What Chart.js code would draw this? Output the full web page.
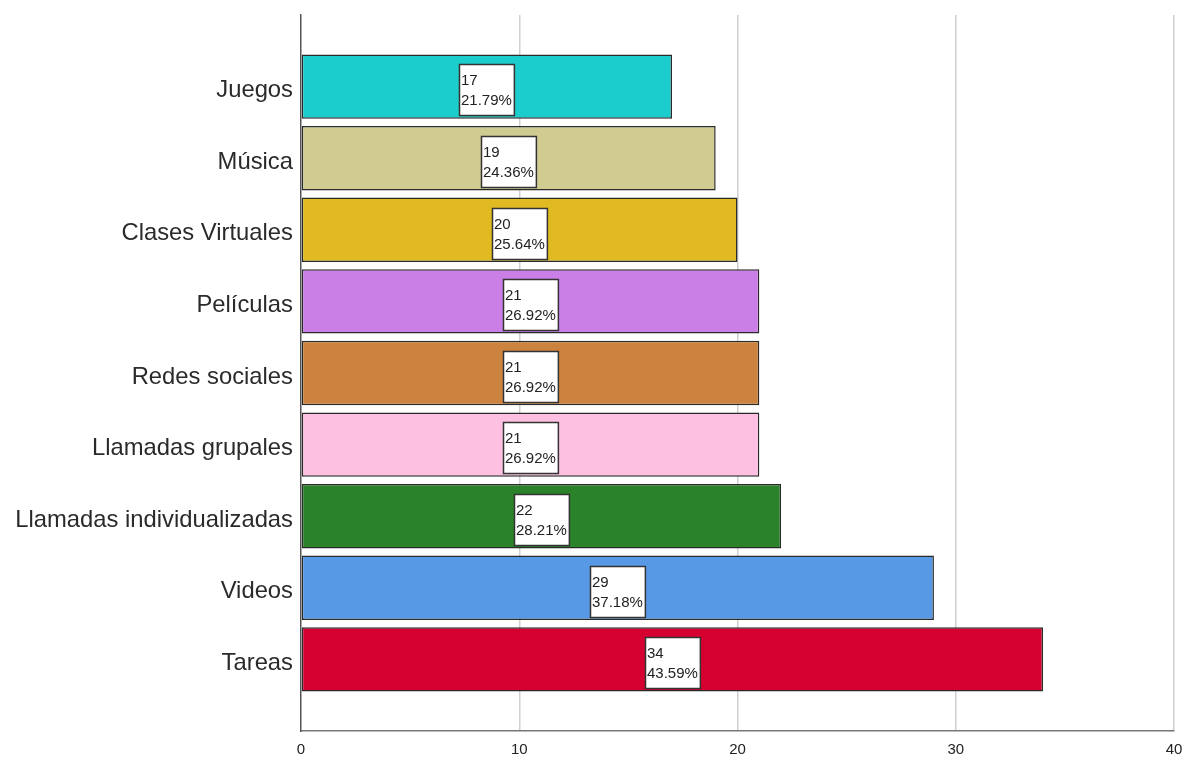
<!DOCTYPE html>
<html>
<head>
<meta charset="utf-8">
<script src="https://cdn.jsdelivr.net/npm/chart.js@4"></script>
<style>
  html, body { margin: 0; padding: 0; background: #fff; }
  #wrap { width: 1190px; height: 762px; }
</style>
</head>
<body>
<div id="wrap"><canvas id="chart" width="1190" height="762"></canvas></div>
<script>
// Actividades realizadas con el celular (frecuencia y porcentaje)
const categories = ['Juegos', 'Música', 'Clases Virtuales', 'Películas', 'Redes sociales',
  'Llamadas grupales', 'Llamadas individualizadas', 'Videos', 'Tareas'];
const counts = [17, 19, 20, 21, 21, 21, 22, 29, 34];
const percents = ['21.79%', '24.36%', '25.64%', '26.92%', '26.92%', '26.92%', '28.21%', '37.18%', '43.59%'];
const barColors = ['#1ccdcd', '#cfcb91', '#e0ba20', '#c97fe6', '#cc833f',
  '#fdc0e1', '#2a832a', '#5899e6', '#d5002f'];
const xTicks = [0, 10, 20, 30, 40];

const FONT = '"Liberation Sans", Arial, sans-serif';

// white boxes with count + percent, centred on each bar
const boxLabels = {
  id: 'boxLabels',
  afterDatasetsDraw(chart) {
    const ctx = chart.ctx;
    const meta = chart.getDatasetMeta(0);
    ctx.save();
    ctx.font = '15px ' + FONT;
    meta.data.forEach((bar, i) => {
      const l1 = String(counts[i]);
      const l2 = percents[i];
      const w = Math.max(ctx.measureText(l1).width, ctx.measureText(l2).width) + 4;
      const h = 51;
      const cx = (bar.base + bar.x) / 2;
      const top = Math.round(bar.y - bar.height / 2 + 10) + 0.5;
      const left = Math.round(cx - w / 2) + 0.5;
      ctx.fillStyle = '#fff';
      ctx.fillRect(left, top, w, h);
      ctx.strokeStyle = '#333';
      ctx.lineWidth = 1.5;
      ctx.strokeRect(left, top, w, h);
      ctx.fillStyle = '#222';
      ctx.textAlign = 'left';
      ctx.textBaseline = 'alphabetic';
      ctx.fillText(l1, left + 1.5, top + 20);
      ctx.fillText(l2, left + 1.5, top + 40);
    });
    ctx.restore();
  }
};

new Chart(document.getElementById('chart'), {
  type: 'bar',
  data: {
    datasets: [{
      data: counts.map((v, i) => ({ x: v, y: i })),
      backgroundColor: barColors,
      borderColor: '#2a2a2a',
      borderWidth: 1.5,
      borderSkipped: false,
      barPercentage: 0.9,
      categoryPercentage: 1,
    }]
  },
  options: {
    indexAxis: 'y',
    responsive: false,
    animation: false,
    layout: { padding: { top: 15, right: 16, left: 0, bottom: 0 } },
    plugins: {
      legend: { display: false },
      tooltip: { enabled: false },
      title: { display: false },
    },
    scales: {
      x: {
        type: 'linear',
        min: 0,
        max: 40,
        afterBuildTicks: (scale) => { scale.ticks = xTicks.map((v) => ({ value: v })); },
        afterFit: (scale) => {
          scale.height = 31;
          scale.paddingLeft = 0;
          scale.paddingRight = 0;
        },
        grid: {
          color: (c) => (c.tick && c.tick.value === 0 ? 'rgba(0,0,0,0)' : '#cfcfcf'),
          lineWidth: 1.5,
          drawTicks: false,
        },
        border: { display: true, color: '#777', width: 1.5 },
        ticks: { color: '#222', font: { family: FONT, size: 15 }, padding: 10, maxRotation: 0 },
      },
      y: {
        type: 'linear',
        reverse: true,
        offset: false,
        min: -1,
        max: 9,
        afterBuildTicks: (scale) => { scale.ticks = categories.map((c, i) => ({ value: i })); },
        afterFit: (scale) => {
          scale.width = 301;
          scale.paddingTop = 0;
          scale.paddingBottom = 0;
        },
        grid: { display: false, drawTicks: false, offset: false },
        border: { display: true, color: '#555', width: 1.5 },
        ticks: {
          color: '#2a2a2a',
          font: { family: FONT, size: 23.8 },
          padding: 8,
          labelOffset: 4,
          callback: (v) => categories[v] ?? '',
        },
      },
    },
  },
  plugins: [boxLabels],
});
</script>
</body>
</html>
